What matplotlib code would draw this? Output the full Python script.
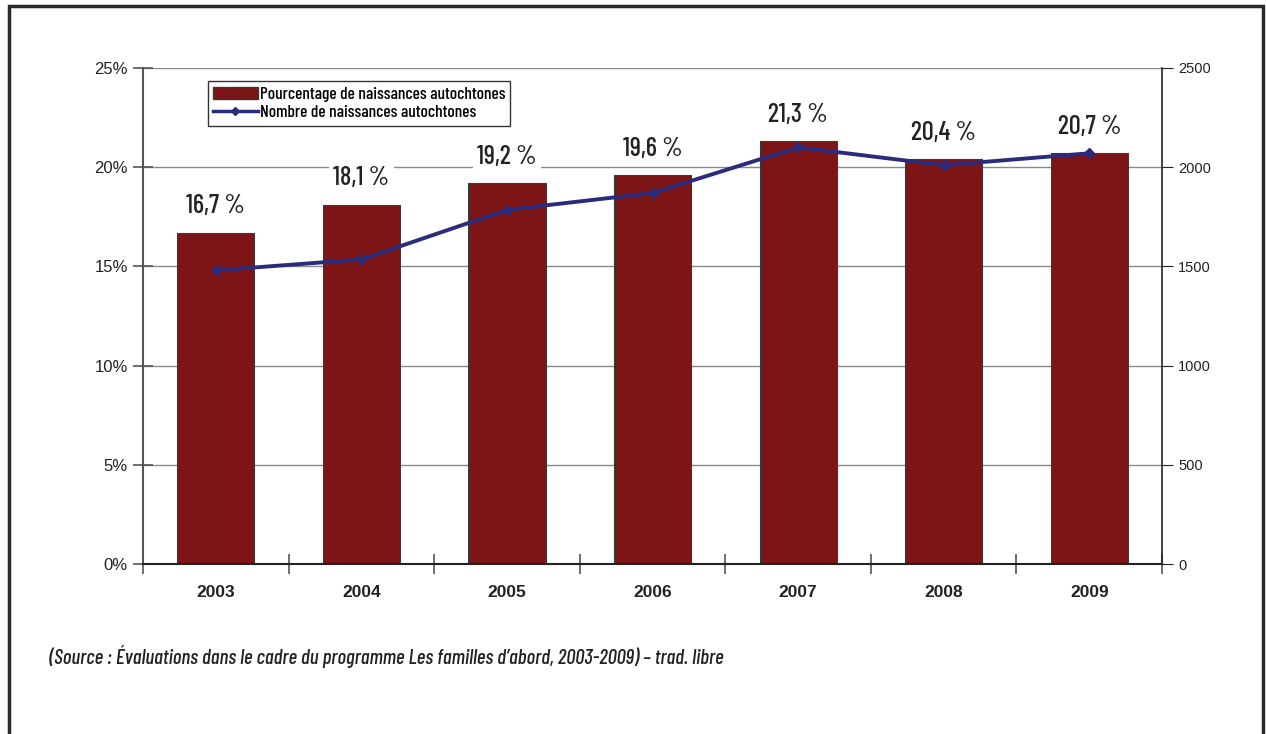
import matplotlib
matplotlib.use("Agg")
import matplotlib.pyplot as plt
from matplotlib.patches import Rectangle, Patch
from matplotlib.lines import Line2D
import numpy as np

# data
years = ["2003", "2004", "2005", "2006", "2007", "2008", "2009"]
pct = [16.7, 18.1, 19.2, 19.6, 21.3, 20.4, 20.7]
pct_labels = ["16,7 %", "18,1 %", "19,2 %", "19,6 %", "21,3 %", "20,4 %", "20,7 %"]
births = [1480, 1535, 1785, 1870, 2100, 2010, 2070]

bar_color = "#7d1416"
line_color = "#2b2b7c"
narrow = ["Barlow Condensed", "DejaVu Sans"]
arial = ["Liberation Sans", "DejaVu Sans"]

fig = plt.figure(figsize=(12.66, 7.34), dpi=100)
ax = fig.add_axes([0.1130, 0.2316, 0.8049, 0.6758])
ax2 = ax.twinx()

x = np.arange(len(years))
ax.bar(x, pct, width=0.53, color=bar_color, edgecolor="#3a3a3a", linewidth=0.8, zorder=2)
ax.set_xlim(-0.5, len(years) - 0.5)
ax.set_ylim(0, 25)
ax.set_yticks([0, 5, 10, 15, 20, 25])
ax.set_yticklabels(["0%", "5%", "10%", "15%", "20%", "25%"], fontsize=12, family=arial, color="#222222")
ax.yaxis.grid(True, color="#8a8a8a", linewidth=1.0, zorder=0)
ax.set_axisbelow(True)

# category boundaries as ticks, year labels at centres
ax.set_xticks(np.arange(-0.5, len(years), 1.0))
ax.set_xticklabels([])
ax.set_xticks(x, minor=True)
ax.set_xticklabels(years, minor=True, fontsize=12.5, fontweight="bold", family=arial, color="#222222")
ax.tick_params(axis="x", which="major", direction="inout", length=14, width=1.2, color="#555555")
ax.tick_params(axis="x", which="minor", length=0, pad=15)
ax.tick_params(axis="y", direction="inout", length=14, width=1.2, color="#555555", pad=4)

ax.spines["top"].set_visible(False)
ax2.spines["top"].set_visible(False)
ax.spines["left"].set_color("#555555")
ax.spines["left"].set_linewidth(1.5)
ax.spines["bottom"].set_color("#222222")
ax.spines["bottom"].set_linewidth(1.5)
ax.spines["right"].set_visible(False)
ax2.spines["left"].set_visible(False)
ax2.spines["bottom"].set_visible(False)
ax2.spines["right"].set_color("#222222")
ax2.spines["right"].set_linewidth(1.2)

for xi, v, lab in zip(x, pct, pct_labels):
    ax.annotate(lab, (xi, v), xytext=(0, 19), textcoords="offset points",
                ha="center", va="center", fontsize=19, fontweight=500, family=narrow,
                color="#222222", bbox=dict(facecolor="white", edgecolor="none", pad=3), zorder=3)

ax2.plot(x, births, color=line_color, linewidth=2.8, marker="D", markersize=5, zorder=4)
ax2.set_ylim(0, 2500)
ax2.set_yticks([0, 500, 1000, 1500, 2000, 2500])
ax2.set_yticklabels(["0", "500", "1000", "1500", "2000", "2500"], family=arial)
ax2.tick_params(axis="y", direction="out", length=8, labelsize=10.5, color="#222222", labelcolor="#222222")

handles = [Patch(facecolor=bar_color, edgecolor="#3a3a3a"),
           Line2D([], [], color=line_color, linewidth=2.5, marker="D", markersize=4)]
leg = ax2.legend(handles, ["Pourcentage de naissances autochtones", "Nombre de naissances autochtones"],
                 loc="upper left", bbox_to_anchor=(0.06, 0.98), fancybox=False, framealpha=1,
                 edgecolor="#333333", prop={"family": narrow, "size": 12.5, "weight": 500},
                 handlelength=2.6, borderpad=0.3, labelspacing=0.2, handletextpad=0.1,
                 borderaxespad=0.2)
leg.get_frame().set_linewidth(1.0)

fig.text(0.039, 0.105, "(Source : \u00c9valuations dans le cadre du programme Les familles d\u2019abord, 2003-2009) \u2013 trad. libre",
         fontsize=15, style="italic", fontweight=500, family=narrow, color="#222222", va="center")

fig.patches.append(Rectangle((0.007, -0.01), 0.991, 1.002, transform=fig.transFigure,
                             fill=False, edgecolor="#2a2a2a", linewidth=2.5))

fig.savefig("out.png", dpi=100)
